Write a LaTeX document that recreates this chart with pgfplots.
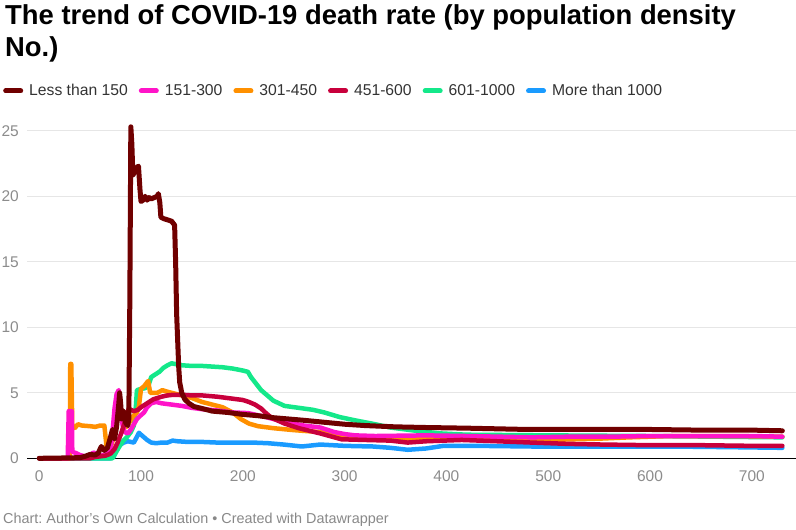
\documentclass[border=0pt]{standalone}
\usepackage{fontspec}
\setmainfont{Liberation Sans}
\usepackage{pgfplots}
\pgfplotsset{compat=1.18}
\definecolor{cDark}{HTML}{700000}
\definecolor{cPink}{HTML}{FF14C8}
\definecolor{cOrange}{HTML}{FF9000}
\definecolor{cCrimson}{HTML}{C8003C}
\definecolor{cGreen}{HTML}{14E88A}
\definecolor{cBlue}{HTML}{1A9BFF}
\definecolor{tickgray}{HTML}{8C8C8C}
\definecolor{footgray}{HTML}{888888}
\definecolor{legtext}{HTML}{333333}
\definecolor{gridgray}{HTML}{E6E6E6}
\frenchspacing
\begin{document}
\begin{tikzpicture}
\useasboundingbox (0,0) rectangle (796bp,530bp);
\node[anchor=base west, inner sep=0pt, font=\fontsize{27.4bp}{32bp}\selectfont\bfseries] at (5bp,505bp) {The trend of COVID-19 death rate (by population density};
\node[anchor=base west, inner sep=0pt, font=\fontsize{27.4bp}{32bp}\selectfont\bfseries] at (5bp,473bp) {No.)};
\node[anchor=base west, inner sep=0pt, font=\fontsize{14.4bp}{16bp}\selectfont, text=footgray] at (3bp,6.7bp) {Chart: Author's Own Calculation • Created with Datawrapper};
\begin{axis}[
  at={(27bp,65.15bp)}, anchor=south west,
  scale only axis, width=769bp, height=347.85bp,
  xmin=-12, xmax=743.4, ymin=-0.5, ymax=26.05,
  xtick={0,100,...,700}, ytick={5,10,...,25},
  extra y ticks={0},
  extra y tick style={grid style={black, line width=1.2bp}},
  ymajorgrids, grid style={gridgray, line width=1bp},
  axis line style={draw=none}, tick style={draw=none},
  /pgf/number format/assume math mode=true,
  ticklabel style={font=\fontsize{15.5bp}{18bp}\selectfont, text=tickgray},
  xticklabel style={anchor=north, inner sep=0pt, yshift=-5.2bp},
  yticklabel style={anchor=east, inner sep=0pt, xshift=-8bp},
  legend columns=6,
  legend cell align=left,
  legend style={at={(-0.0312,1.0748)}, anchor=west, draw=none, fill=none, inner sep=0pt,
    font=\fontsize{15.7bp}{18bp}\selectfont, text=legtext,
    /tikz/every odd column/.style={column sep=6bp},
    /tikz/every even column/.style={column sep=11bp},
    nodes={inner sep=0pt}},
  legend image code/.code={\path[draw=none, fill=none] (0bp,-3bp) rectangle (20bp,3bp); \draw[line width=5bp, line cap=round] (2.5bp,0bp) -- (17.5bp,0bp);},
  every axis plot/.append style={line join=round, line cap=round},
]
\addlegendimage{cDark}\addlegendentry{Less than 150}
\addlegendimage{cPink}\addlegendentry{151-300}
\addlegendimage{cOrange}\addlegendentry{301-450}
\addlegendimage{cCrimson}\addlegendentry{451-600}
\addlegendimage{cGreen}\addlegendentry{601-1000}
\addlegendimage{cBlue}\addlegendentry{More than 1000}

% More than 1000
\addplot[cBlue, line width=4.5bp, forget plot] coordinates {
(0,0) (70,0) (73,0.1) (76,0.6) (79,1.0) (83,1.2) (87,1.3) (90,1.25) (93,1.2) (95,1.5) (98,1.95) (100,1.8) (103,1.6) (106,1.4) (110,1.2) (115,1.15) (120,1.2) (126,1.2) (131,1.35) (136,1.3) (146,1.25) (160,1.25) (175,1.2) (192,1.2) (210,1.2) (225,1.15) (240,1.05) (258,0.9) (276,1.05) (300,0.95) (328,0.9) (345,0.8) (362,0.65) (380,0.75) (397,0.95) (430,0.95) (484,0.9) (550,0.9) (620,0.9) (680,0.85) (730,0.8)
};
% 601-1000
\addplot[cGreen, line width=4.5bp, forget plot] coordinates {
(0,0) (72,0) (75,0.4) (78,0.8) (82,1.3) (86,1.6) (90,2.0) (93,2.5) (95,4.0) (96,5.2) (100,5.3) (104,5.35) (107,5.5) (110,6.2) (114,6.4) (118,6.6) (122,6.9) (126,7.1) (130,7.25) (140,7.1) (150,7.05) (160,7.05) (170,7.0) (180,6.95) (190,6.85) (200,6.7) (205,6.6) (208,6.2) (212,5.8) (218,5.2) (224,4.8) (230,4.4) (241,4.0) (255,3.85) (269,3.7) (280,3.5) (295,3.15) (310,2.9) (330,2.6) (345,2.35) (370,2.1) (394,1.9) (420,1.8) (500,1.75) (600,1.7) (730,1.6)
};
% 301-450
\addplot[cOrange, line width=4.5bp, forget plot] coordinates {
(0,0) (30,0) (30.5,7.2) (31.5,7.2) (32.5,2.4) (35,2.3) (38,2.6) (42,2.5) (50,2.45) (55,2.4) (60,2.5) (64,2.5) (66,1.0) (68,0.3) (70,0.8) (72,1.3) (74,2.5) (76,4.5) (78,4.4) (80,3.8) (82,2.8) (84,2.6) (86,2.4) (89,2.8) (92,3.2) (96,3.5) (98,4.0) (100,5.3) (103,5.5) (107,5.9) (109,5.0) (112,5.0) (116,5.0) (121,5.2) (125,5.1) (130,5.0) (140,4.8) (150,4.6) (160,4.3) (170,4.1) (180,3.9) (190,3.5) (198,3.0) (206,2.65) (215,2.45) (230,2.3) (250,2.15) (276,2.0) (300,1.7) (310,1.6) (345,1.5) (400,1.45) (450,1.4) (500,1.4) (550,1.5) (580,1.6) (620,1.7) (680,1.7) (730,1.65)
};
% 151-300
\addplot[cPink, line width=4.5bp, forget plot] coordinates {
(0,0) (28,0) (29,3.6) (32,3.6) (32.5,0.5) (36,0.4) (40,0.25) (45,0.15) (50,0.1) (53,0.45) (56,0.35) (60,0.2) (65,0.3) (70,0.5) (72,2.0) (74,3.8) (76,4.9) (78,5.2) (79,4.8) (80,3.5) (82,2.5) (84,2.0) (87,1.9) (90,2.2) (93,2.6) (96,3.0) (100,3.3) (103,3.5) (106,3.9) (110,4.2) (115,4.3) (120,4.2) (130,4.1) (140,4.0) (150,3.85) (160,3.75) (175,3.65) (190,3.5) (205,3.45) (220,3.2) (240,2.8) (260,2.5) (276,2.35) (290,2.0) (300,1.85) (310,1.75) (330,1.7) (380,1.75) (420,1.7) (484,1.6) (520,1.65) (560,1.65) (600,1.7) (650,1.7) (700,1.7) (730,1.65)
};
% 451-600
\addplot[cCrimson, line width=4.5bp, forget plot] coordinates {
(0,0) (50,0) (55,0.1) (60,0.15) (65,0.2) (70,0.35) (74,0.7) (77,1.2) (80,1.8) (83,2.5) (86,3.3) (88,3.8) (90,3.7) (93,3.6) (97,3.7) (100,3.9) (104,4.1) (108,4.3) (112,4.5) (116,4.6) (120,4.7) (126,4.8) (132,4.85) (140,4.85) (150,4.8) (160,4.8) (175,4.7) (190,4.55) (200,4.45) (206,4.3) (212,4.1) (218,3.8) (222,3.5) (228,3.1) (241,2.65) (255,2.3) (276,1.9) (290,1.6) (297,1.45) (320,1.4) (345,1.35) (362,1.2) (380,1.3) (415,1.4) (450,1.3) (484,1.2) (520,1.1) (553,1.05) (600,1.0) (650,1.0) (700,0.95) (730,0.95)
};
% Less than 150
\addplot[cDark, line width=5bp, forget plot] coordinates {
(0,0) (20,0.02) (40,0.05) (45,0.15) (50,0.3) (55,0.25) (58,0.4) (61,0.9) (64,0.6) (67,0.8) (70,1.6) (72,2.2) (74,1.5) (76,2.4) (78,4.0) (79,5.0) (80,4.2) (81,3.0) (83,3.6) (85,2.7) (87,2.5) (88,3.0) (89,12) (90,25.3) (91,24) (92,21.6) (94,21.9) (96,22.2) (97.5,22.3) (99,20.5) (100,19.6) (102,19.7) (104,20.0) (106,19.7) (108,19.9) (110,19.8) (113,19.9) (116,20.0) (117,20.2) (118.5,19.5) (119.5,18.4) (122,18.3) (126,18.2) (130,18.1) (133,17.8) (134,15) (135,11) (136,9) (137,7) (138,5.8) (140,5.0) (143,4.5) (147,4.2) (152,3.95) (160,3.8) (170,3.6) (185,3.5) (200,3.35) (215,3.25) (230,3.1) (245,3.0) (260,2.9) (280,2.75) (300,2.6) (320,2.5) (350,2.4) (380,2.35) (420,2.3) (450,2.25) (480,2.2) (520,2.2) (560,2.2) (600,2.2) (650,2.15) (700,2.15) (730,2.1)
};
\end{axis}
\end{tikzpicture}
\end{document}
